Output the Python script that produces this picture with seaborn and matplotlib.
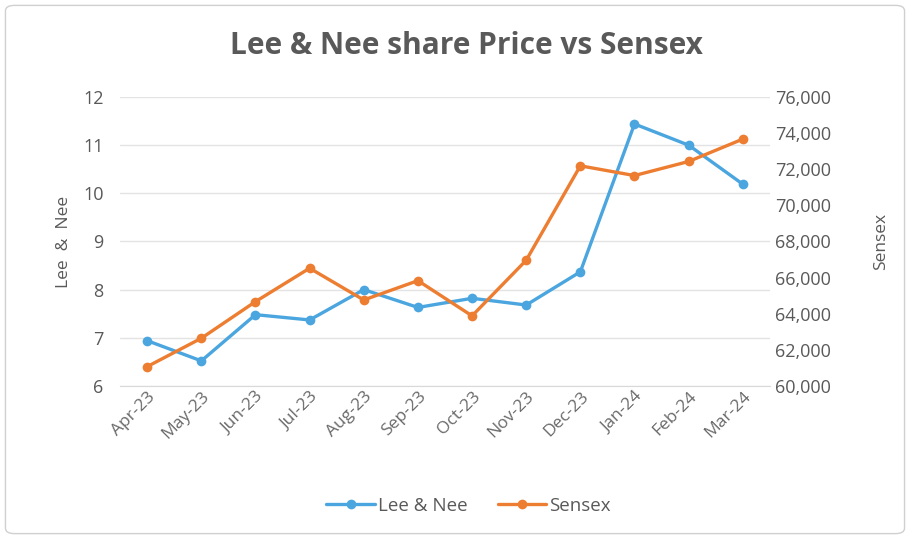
import matplotlib
matplotlib.use("Agg")
import matplotlib.pyplot as plt
from matplotlib.patches import FancyBboxPatch
from matplotlib.ticker import FuncFormatter, FixedLocator
import seaborn as sns
import pandas as pd

# data
months = ["Apr-23", "May-23", "Jun-23", "Jul-23", "Aug-23", "Sep-23",
          "Oct-23", "Nov-23", "Dec-23", "Jan-24", "Feb-24", "Mar-24"]
lee_nee = [6.94, 6.52, 7.48, 7.37, 8.00, 7.63, 7.82, 7.68, 8.37, 11.44, 11.00, 10.19]
sensex = [61070, 62640, 64670, 66520, 64760, 65830, 63880, 66960, 72190, 71650, 72430, 73670]

df = pd.DataFrame({"month": months, "Lee & Nee": lee_nee, "Sensex": sensex})

sns.set_style("white")
plt.rcParams["font.family"] = ["Open Sans", "DejaVu Sans"]

grey = "#595959"
blue = "#4BA6DF"
orange = "#ED7D31"

fig = plt.figure(figsize=(9.1, 5.39), dpi=100)
ax = fig.add_axes([0.132, 0.284, 0.714, 0.536])
ax2 = ax.twinx()

sns.lineplot(data=df, x="month", y="Lee & Nee", ax=ax, color=blue, marker="o",
             markersize=7, markeredgewidth=0, linewidth=2.4, sort=False)
sns.lineplot(data=df, x="month", y="Sensex", ax=ax2, color=orange, marker="o",
             markersize=7, markeredgewidth=0, linewidth=2.4, sort=False)

ax.set_ylim(6, 12)
ax.set_yticks(range(6, 13))
ax2.set_ylim(60000, 76000)
ax2.set_yticks(range(60000, 76001, 2000))
ax2.yaxis.set_major_formatter(FuncFormatter(lambda v, p: f"{int(v):,}"))
ax.set_xlim(-0.5, len(months) - 0.5)

ax.grid(axis="y", color="#E3E3E3", linewidth=1)
ax.set_axisbelow(True)
for a in (ax, ax2):
    for s in ("top", "left", "right", "bottom"):
        a.spines[s].set_visible(False)
ax.spines["bottom"].set_visible(True)
ax.spines["bottom"].set_color("#D9D9D9")

ax.tick_params(axis="y", length=0, labelsize=13, labelcolor=grey, pad=12)
ax2.tick_params(axis="y", length=0, labelsize=13, labelcolor=grey, pad=4)
ax.tick_params(axis="x", length=0, labelsize=12.5, labelcolor="#6A6A6A", pad=2)
ax.xaxis.set_minor_locator(FixedLocator([i - 0.5 for i in range(len(months) + 1)]))
ax.tick_params(axis="x", which="minor", length=5, color="#D9D9D9")
plt.setp(ax.get_xticklabels(), rotation=45, ha="right", rotation_mode="anchor")

ax.set_xlabel("")
ax.set_ylabel("Lee  &  Nee", fontsize=12.5, color=grey, labelpad=8)
ax2.set_ylabel("Sensex", fontsize=12.5, color=grey, labelpad=30, rotation=90)

fig.text(0.513, 0.915, "Lee & Nee share Price vs Sensex", ha="center", va="center",
         fontsize=21.5, fontweight="bold", color=grey)

h1 = ax.get_lines()[0]
h2 = ax2.get_lines()[0]
fig.legend([h1, h2], ["Lee & Nee", "Sensex"], loc="center", bbox_to_anchor=(0.515, 0.062),
           ncol=2, frameon=False, fontsize=13.5, labelcolor=grey, handlelength=2.6,
           handletextpad=0.15, columnspacing=1.6)

fig.patches.append(FancyBboxPatch((0.006, 0.01), 0.988, 0.98, boxstyle="round,pad=0,rounding_size=0.01",
                                  transform=fig.transFigure, fill=False, edgecolor="#D0D0D0",
                                  linewidth=1))

fig.savefig("out.png", dpi=100)
